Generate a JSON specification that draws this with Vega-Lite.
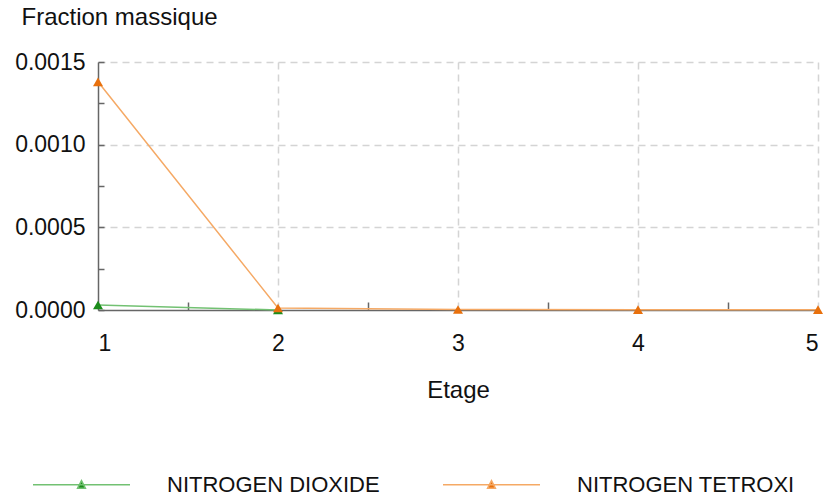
{
  "$schema": "https://vega.github.io/schema/vega-lite/v6.json",
  "width": 720,
  "height": 248,
  "autosize": "none",
  "padding": {"left": 98, "top": 62, "right": 8, "bottom": 189},
  "background": "white",
  "config": {
    "font": "Liberation Sans",
    "view": {"stroke": null},
    "axis": {
      "labelFont": "Liberation Sans",
      "titleFont": "Liberation Sans",
      "labelFontSize": 23,
      "titleFontSize": 24,
      "labelColor": "#111",
      "titleColor": "#111",
      "titleFontWeight": "normal",
      "domainColor": "#666",
      "tickColor": "#666",
      "gridColor": "#d4d4d4",
      "gridDash": [7, 5],
      "gridWidth": 1.5
    },
    "legend": {
      "labelFont": "Liberation Sans",
      "labelFontSize": 22,
      "labelColor": "#111",
      "padding": 0
    }
  },
  "data": {
    "values": [
      {"etage": 1, "fraction": 0.000030, "composant": "NITROGEN DIOXIDE"},
      {"etage": 2, "fraction": 0.0, "composant": "NITROGEN DIOXIDE"},
      {"etage": 1, "fraction": 0.00138, "composant": "NITROGEN TETROXI"},
      {"etage": 2, "fraction": 0.000012, "composant": "NITROGEN TETROXI"},
      {"etage": 3, "fraction": 0.000003, "composant": "NITROGEN TETROXI"},
      {"etage": 4, "fraction": 0.000002, "composant": "NITROGEN TETROXI"},
      {"etage": 5, "fraction": 0.000002, "composant": "NITROGEN TETROXI"}
    ]
  },
  "encoding": {
    "x": {
      "field": "etage",
      "type": "quantitative",
      "scale": {"domain": [1, 5], "nice": false, "zero": false},
      "axis": {
        "title": "Etage",
        "values": [1, 1.5, 2, 2.5, 3, 3.5, 4, 4.5, 5],
        "labelExpr": "datum.value % 1 === 0 ? format(datum.value, 'd') : ''",
        "tickSize": -8,
        "tickWidth": 1.5,
        "tickOpacity": {"condition": {"test": "datum.value % 1 !== 0", "value": 1}, "value": 0},
        "gridOpacity": {"condition": {"test": "datum.value % 1 === 0 && datum.value > 1", "value": 1}, "value": 0},
        "labelPadding": 30,
        "titleBaseline": "top",
        "titleY": 68,
        "domainWidth": 1.5
      }
    },
    "y": {
      "field": "fraction",
      "type": "quantitative",
      "scale": {"domain": [0, 0.0015], "nice": false},
      "axis": {
        "title": "Fraction massique",
        "titleAngle": 0,
        "titleAlign": "left",
        "titleBaseline": "top",
        "titleX": -77,
        "titleY": -57,
        "values": [0, 0.00025, 0.0005, 0.00075, 0.001, 0.00125, 0.0015],
        "format": ".4f",
        "labelExpr": "indexof(['0.0000', '0.0005', '0.0010', '0.0015'], datum.label) >= 0 ? datum.label : ''",
        "gridOpacity": {"condition": {"test": "indexof(['0.0005', '0.0010', '0.0015'], format(datum.value, '.4f')) >= 0", "value": 1}, "value": 0},
        "tickSize": -6,
        "tickWidth": 1.5,
        "labelPadding": 19,
        "domainWidth": 1.5
      }
    }
  },
  "layer": [
    {
      "mark": {"type": "line", "strokeWidth": 1.5},
      "encoding": {
        "stroke": {
          "field": "composant",
          "type": "nominal",
          "scale": {"domain": ["NITROGEN DIOXIDE", "NITROGEN TETROXI"], "range": ["#72c172", "#f5a965"]},
          "legend": {
            "title": null,
            "orient": "none",
            "direction": "horizontal",
            "legendX": -66,
            "legendY": 373,
            "symbolType": "M-1,0H1M-0.08,0.07L0,-0.085L0.08,0.07Z",
            "symbolSize": 9409,
            "symbolStrokeWidth": 1.5,
            "labelOffset": 36,
            "columnPadding": 60,
            "labelLimit": 300
          }
        }
      }
    },
    {
      "mark": {"type": "point", "shape": "triangle-up", "filled": true, "size": 100, "opacity": 1},
      "encoding": {
        "fill": {
          "field": "composant",
          "type": "nominal",
          "scale": {"domain": ["NITROGEN DIOXIDE", "NITROGEN TETROXI"], "range": ["#1b8c1b", "#e8700c"]},
          "legend": {
            "title": null,
            "orient": "none",
            "direction": "horizontal",
            "legendX": -66,
            "legendY": 373,
            "symbolType": "M-1,0H1M-0.08,0.07L0,-0.085L0.08,0.07Z",
            "symbolSize": 9409,
            "symbolStrokeWidth": 1.5,
            "labelOffset": 36,
            "columnPadding": 60,
            "labelLimit": 300
          }
        }
      }
    }
  ]
}
